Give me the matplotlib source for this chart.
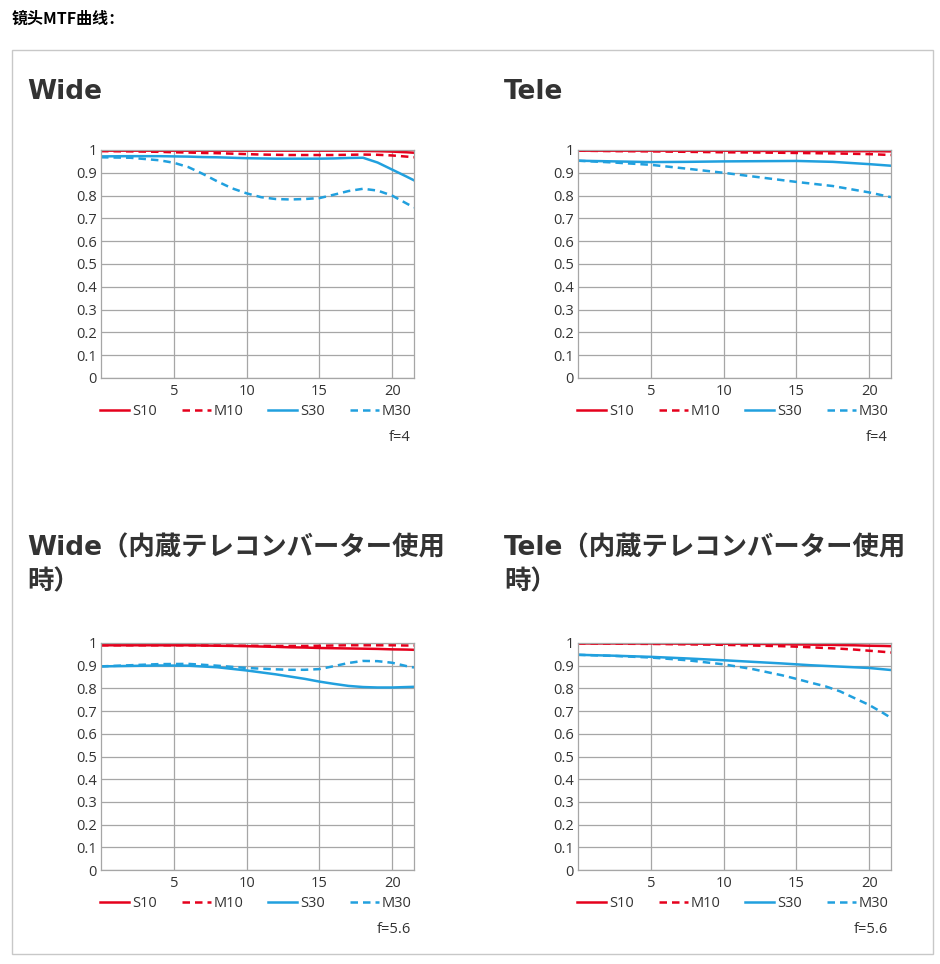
import matplotlib
matplotlib.use("Agg")
import matplotlib.pyplot as plt
from matplotlib.patches import Rectangle

W, H = 940, 964

RED = "#e5001c"
BLUE = "#21a0de"
GRID = "#a6a6a6"
TXT = "#333333"

# MTF values (x = distance from centre, mm)
wide_x = [0, 2, 4, 5, 6, 7, 8, 9, 10, 11, 12, 13, 14, 15, 16, 17, 18, 19, 20, 21, 21.5]
wide_s10 = [0.997, 0.997, 0.997, 0.997, 0.997, 0.997, 0.997, 0.997, 0.997, 0.997, 0.997,
            0.997, 0.997, 0.997, 0.997, 0.997, 0.996, 0.995, 0.993, 0.990, 0.988]
wide_m10 = [0.995, 0.994, 0.992, 0.990, 0.989, 0.987, 0.986, 0.984, 0.982, 0.980, 0.979,
            0.978, 0.978, 0.978, 0.978, 0.979, 0.980, 0.979, 0.976, 0.971, 0.968]
wide_s30 = [0.972, 0.973, 0.973, 0.972, 0.971, 0.969, 0.968, 0.966, 0.964, 0.963, 0.962,
            0.962, 0.962, 0.962, 0.963, 0.965, 0.966, 0.945, 0.914, 0.883, 0.867]
wide_m30 = [0.968, 0.966, 0.955, 0.944, 0.925, 0.895, 0.862, 0.832, 0.810, 0.793, 0.785,
            0.783, 0.785, 0.789, 0.804, 0.820, 0.830, 0.822, 0.800, 0.765, 0.748]

tele_x = [0, 2.5, 5, 7.5, 10, 12.5, 15, 17.5, 20, 21.5]
tele_s10 = [0.997, 0.997, 0.997, 0.997, 0.997, 0.996, 0.996, 0.995, 0.995, 0.994]
tele_m10 = [0.997, 0.995, 0.994, 0.992, 0.990, 0.989, 0.987, 0.985, 0.982, 0.978]
tele_s30 = [0.953, 0.950, 0.947, 0.948, 0.950, 0.951, 0.952, 0.948, 0.938, 0.931]
tele_m30 = [0.953, 0.945, 0.935, 0.918, 0.900, 0.880, 0.860, 0.842, 0.814, 0.793]

wide_tc_x = [0, 2, 4, 6, 8, 10, 12, 13, 14, 15, 16, 17, 18, 19, 20, 21, 21.5]
wide_tc_s10 = [0.990, 0.990, 0.990, 0.990, 0.988, 0.986, 0.983, 0.981, 0.980, 0.978, 0.977,
               0.976, 0.975, 0.974, 0.972, 0.971, 0.970]
wide_tc_m10 = [0.990, 0.990, 0.990, 0.990, 0.989, 0.988, 0.987, 0.987, 0.987, 0.988, 0.989,
               0.990, 0.990, 0.990, 0.990, 0.989, 0.989]
wide_tc_s30 = [0.897, 0.899, 0.901, 0.900, 0.893, 0.879, 0.862, 0.852, 0.842, 0.830, 0.820,
               0.811, 0.806, 0.804, 0.804, 0.806, 0.807]
wide_tc_m30 = [0.897, 0.902, 0.907, 0.908, 0.900, 0.890, 0.884, 0.882, 0.882, 0.885, 0.898,
               0.912, 0.921, 0.920, 0.913, 0.898, 0.892]

tele_tc_x = [0, 2.5, 5, 7.5, 10, 12, 14, 15, 16, 17, 18, 19, 20, 21, 21.5]
tele_tc_s10 = [0.998, 0.998, 0.998, 0.997, 0.997, 0.996, 0.995, 0.994, 0.993, 0.992, 0.991,
               0.990, 0.988, 0.987, 0.986]
tele_tc_m10 = [0.998, 0.997, 0.996, 0.994, 0.992, 0.989, 0.986, 0.984, 0.981, 0.978, 0.975,
               0.971, 0.966, 0.961, 0.958]
tele_tc_s30 = [0.948, 0.944, 0.939, 0.932, 0.924, 0.917, 0.910, 0.906, 0.902, 0.899, 0.896,
               0.893, 0.890, 0.884, 0.881]
tele_tc_m30 = [0.948, 0.943, 0.936, 0.924, 0.906, 0.885, 0.858, 0.842, 0.825, 0.809, 0.787,
               0.757, 0.727, 0.690, 0.670]

series_names = ["S10", "M10", "S30", "M30"]
x_ticks = [5, 10, 15, 20]
y_ticks = [0, 0.1, 0.2, 0.3, 0.4, 0.5, 0.6, 0.7, 0.8, 0.9, 1]
y_tick_labels = ["0", "0.1", "0.2", "0.3", "0.4", "0.5", "0.6", "0.7", "0.8", "0.9", "1"]

page_title = "镜头MTF曲线："
panel_titles = ["Wide", "Tele",
                "Wide（内蔵テレコンバーター使用\n時）", "Tele（内蔵テレコンバーター使用\n時）"]
f_labels = ["f=4", "f=4", "f=5.6", "f=5.6"]


def px_rect(x0, y0, x1, y1):
    return [x0 / W, 1 - y1 / H, (x1 - x0) / W, (y1 - y0) / H]


fig = plt.figure(figsize=(W / 100, H / 100), dpi=100)
fig.patch.set_facecolor("white")

# outer light-grey frame
fig.patches.append(Rectangle((12 / W, 1 - 954 / H), (933 - 12) / W, (954 - 50) / H,
                             transform=fig.transFigure, fill=False,
                             edgecolor="#c8c8c8", lw=1.0))

fig.text(12 / W, 1 - 19 / H, page_title, fontsize=11.5, fontweight="bold",
         family=["Noto Sans CJK SC", "DejaVu Sans"], va="center", ha="left", color="black")

panels = [
    (px_rect(101, 150, 414, 378), (27, 79), wide_x, [wide_s10, wide_m10, wide_s30, wide_m30]),
    (px_rect(578, 150, 891, 378), (504, 79), tele_x, [tele_s10, tele_m10, tele_s30, tele_m30]),
    (px_rect(101, 643, 414, 870), (27, 535),
     wide_tc_x, [wide_tc_s10, wide_tc_m10, wide_tc_s30, wide_tc_m30]),
    (px_rect(578, 643, 891, 870), (504, 535),
     tele_tc_x, [tele_tc_s10, tele_tc_m10, tele_tc_s30, tele_tc_m30]),
]

styles = [(RED, "-"), (RED, (0, (3, 2))), (BLUE, "-"), (BLUE, (0, (3, 2)))]

for i, (rect, tpos, xs, ys) in enumerate(panels):
    ax = fig.add_axes(rect)
    for (col, ls), name, yv in zip(styles, series_names, ys):
        ax.plot(xs, yv, color=col, ls=ls, lw=1.8, label=name)

    ax.set_xlim(0, 21.5)
    ax.set_ylim(0, 1)
    ax.set_xticks(x_ticks)
    ax.set_yticks(y_ticks)
    ax.set_yticklabels(y_tick_labels)
    ax.grid(True, color=GRID, lw=0.9)
    ax.set_axisbelow(True)
    for sp in ax.spines.values():
        sp.set_color(GRID)
        sp.set_linewidth(0.9)
    ax.tick_params(length=0, labelsize=10.5, colors=TXT)
    ax.tick_params(axis="x", pad=4.5)
    ax.tick_params(axis="y", pad=3)
    for lab in ax.get_xticklabels() + ax.get_yticklabels():
        lab.set_family("Open Sans")

    leg = ax.legend(loc="center left", bbox_to_anchor=(-0.003, -0.147, 0.995, 0),
                    mode="expand", ncol=4, frameon=False, borderaxespad=0, borderpad=0,
                    handlelength=2.0, handletextpad=0.2,
                    prop={"family": "Open Sans", "size": 10.5})
    for t in leg.get_texts():
        t.set_color(TXT)

    ax.text(0.99, -0.26, f_labels[i], transform=ax.transAxes, ha="right", va="center",
            fontsize=10.5, family="Open Sans", color=TXT)

    fig.text(tpos[0] / W, 1 - tpos[1] / H, panel_titles[i], fontsize=19, fontweight="bold",
             family=["DejaVu Sans", "Noto Sans CJK JP"], color=TXT,
             ha="left", va="top", linespacing=1.4)

fig.savefig("out.png", dpi=100)
